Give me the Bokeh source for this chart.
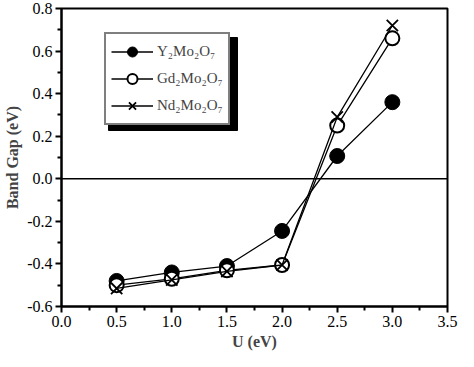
from bokeh.plotting import figure
from bokeh.models import (Range1d, Span, Legend, LegendItem, FixedTicker, NumeralTickFormatter)
from bokeh.embed import file_html
from bokeh.resources import INLINE

u = [0.5, 1.0, 1.5, 2.0, 2.5, 3.0]
y_mo = [-0.48, -0.44, -0.41, -0.245, 0.107, 0.36]
gd_mo = [-0.50, -0.47, -0.43, -0.405, 0.25, 0.66]
nd_mo = [-0.515, -0.475, -0.435, -0.405, 0.29, 0.72]
names = ["Y\u2082Mo\u2082O\u2087", "Gd\u2082Mo\u2082O\u2087", "Nd\u2082Mo\u2082O\u2087"]
xticks = [0.0, 0.5, 1.0, 1.5, 2.0, 2.5, 3.0, 3.5]
yticks = [-0.6, -0.4, -0.2, 0.0, 0.2, 0.4, 0.6, 0.8]

FONT = "Liberation Serif"
FW, FH = 386, 298
X0, X1, Y0, Y1 = 0.0, 3.5, -0.6, 0.8

p = figure(width=458, height=351, output_backend="svg", toolbar_location=None,
           x_range=Range1d(X0, X1), y_range=Range1d(Y0, Y1),
           min_border_left=61, min_border_right=11, min_border_top=8, min_border_bottom=45)
p.frame_width = FW
p.frame_height = FH
p.grid.visible = False
p.outline_line_color = "black"
p.outline_line_width = 2
p.background_fill_color = "white"

p.axis.axis_line_width = 2
p.axis.major_tick_line_width = 2
p.axis.minor_tick_line_width = 2
p.axis.major_tick_out = 6
p.axis.major_tick_in = 0
p.axis.minor_tick_out = 4
p.axis.minor_tick_in = 0
p.axis.major_label_standoff = 3
p.axis.major_label_text_font = FONT
p.axis.major_label_text_font_size = "16px"
p.axis.major_label_text_color = "black"
p.axis.axis_label_text_font = FONT
p.axis.axis_label_text_font_style = "bold"
p.axis.axis_label_text_font_size = "16px"
p.axis.axis_label_standoff = 3
p.axis.formatter = NumeralTickFormatter(format="0.0")

p.xaxis.ticker = FixedTicker(ticks=xticks, minor_ticks=[x + 0.25 for x in xticks[:-1]])
p.yaxis.ticker = FixedTicker(ticks=yticks, minor_ticks=[y + 0.1 for y in yticks[:-1]])
p.yaxis.axis_label = "Band Gap (eV)"
p.xaxis.axis_label = "U (eV)"

p.add_layout(Span(location=0, dimension="width", line_color="black", line_width=1.5))

# legend drop shadow (pixel box relative to frame: left, right, top, bottom)
sl, sr, st, sb = 47, 176, 29, 122
p.quad(left=[X0 + sl / FW * (X1 - X0)], right=[X0 + sr / FW * (X1 - X0)],
       top=[Y1 - st / FH * (Y1 - Y0)], bottom=[Y1 - sb / FH * (Y1 - Y0)],
       fill_color="black", line_color="black")

r1l = p.line(u, y_mo, line_color="black", line_width=1.3)
r1m = p.scatter(u, y_mo, marker="circle", size=15, fill_color="black", line_color="black")
r2l = p.line(u, gd_mo, line_color="black", line_width=1.3)
r2m = p.scatter(u, gd_mo, marker="circle", size=14, fill_color="white", line_color="black", line_width=2)
r3l = p.line(u, nd_mo, line_color="black", line_width=1.3)
r3m = p.scatter(u, nd_mo, marker="x", size=16, line_color="black", line_width=1.8)

legend = Legend(items=[LegendItem(label=names[0], renderers=[r1l, r1m]),
                       LegendItem(label=names[1], renderers=[r2l, r2m]),
                       LegendItem(label=names[2], renderers=[r3l, r3m])],
                location=(43, 181), orientation="vertical",
                border_line_color="black", border_line_width=2,
                background_fill_color="white", background_fill_alpha=1.0,
                label_text_font=FONT, label_text_font_size="15px",
                glyph_width=42, glyph_height=25, label_height=25,
                spacing=2, padding=5, margin=0, label_standoff=4)
p.add_layout(legend)

open("out.html", "w").write(file_html(p, INLINE))
